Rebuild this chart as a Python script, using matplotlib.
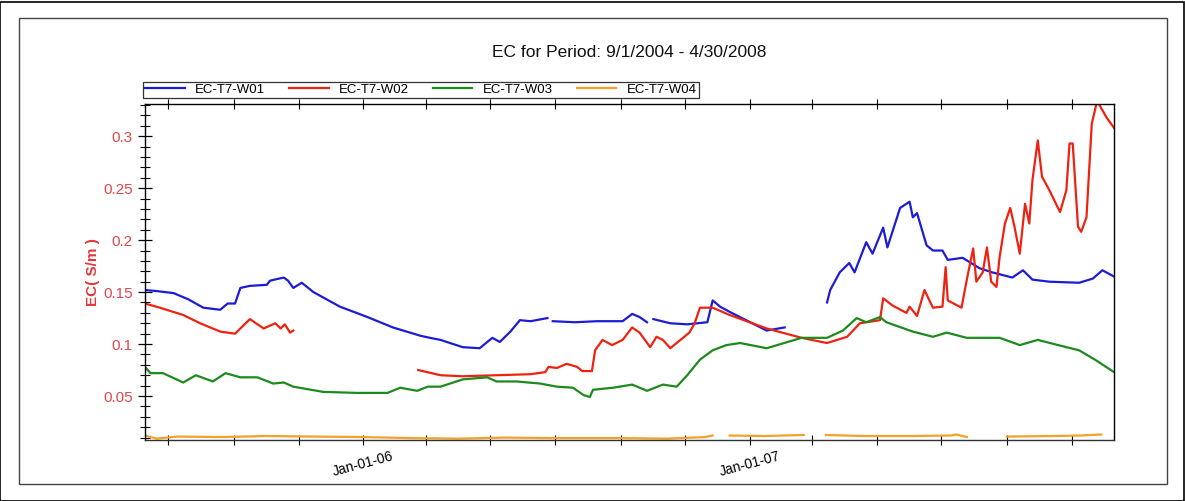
import matplotlib
matplotlib.use("Agg")
import matplotlib.pyplot as plt
import matplotlib.patches as patches
import matplotlib.dates as mdates
import numpy as np
import pandas as pd

plt.rcParams['font.family'] = ['Liberation Sans', 'DejaVu Sans']

NAN = np.nan

# EC-T7-W01 (blue); NaN marks a gap in the record
w01_dates = ['2005-06-09', '2005-06-20', '2005-07-06', '2005-07-20', '2005-08-03', '2005-08-19',
             '2005-08-26', '2005-09-02', '2005-09-07', '2005-09-16', '2005-10-02', '2005-10-05',
             '2005-10-18', '2005-10-22', '2005-10-27', '2005-11-04', '2005-11-15', '2005-12-10',
             '2006-01-05', '2006-01-29', '2006-02-24', '2006-03-05', '2006-03-15', '2006-04-05',
             '2006-04-21', '2006-05-03', '2006-05-10', '2006-05-20', '2006-05-29', '2006-06-08',
             '2006-06-24', '2006-06-26', '2006-06-29', '2006-07-20', '2006-08-10', '2006-09-03',
             '2006-09-12', '2006-09-19', '2006-09-26', '2006-09-29', '2006-10-02', '2006-10-18',
             '2006-11-03', '2006-11-22', '2006-11-27', '2006-12-04', '2006-12-13', '2007-01-17',
             '2007-02-03', '2007-02-20', '2007-03-15', '2007-03-18', '2007-03-27', '2007-04-05',
             '2007-04-10', '2007-04-21', '2007-04-27', '2007-05-07', '2007-05-11', '2007-05-23',
             '2007-06-01', '2007-06-04', '2007-06-08', '2007-06-17', '2007-06-23', '2007-07-02',
             '2007-07-07', '2007-07-21', '2007-08-06', '2007-08-18', '2007-09-06', '2007-09-16',
             '2007-09-25', '2007-10-11', '2007-11-08', '2007-11-21', '2007-11-30', '2007-12-11']
w01_vals = [0.152, 0.151, 0.149, 0.143, 0.135, 0.133,
            0.139, 0.139, 0.154, 0.156, 0.157, 0.161,
            0.164, 0.161, 0.154, 0.159, 0.150, 0.136,
            0.126, 0.116, 0.108, 0.106, 0.104, 0.097,
            0.096, 0.106, 0.102, 0.112, 0.123, 0.122,
            0.125, NAN, 0.122, 0.121, 0.122, 0.122,
            0.129, 0.126, 0.121, NAN, 0.124, 0.120,
            0.119, 0.121, 0.142, 0.136, 0.131, 0.113,
            0.116, NAN, 0.140, 0.152, 0.169, 0.178,
            0.169, 0.198, 0.187, 0.212, 0.193, 0.231,
            0.237, 0.222, 0.226, 0.195, 0.190, 0.190,
            0.181, 0.183, 0.173, 0.169, 0.164, 0.171,
            0.162, 0.160, 0.159, 0.163, 0.171, 0.165]

# EC-T7-W02 (red)
w02_dates = ['2005-06-09', '2005-06-23', '2005-07-15', '2005-07-31', '2005-08-19', '2005-09-02',
             '2005-09-16', '2005-09-29', '2005-10-10', '2005-10-15', '2005-10-19', '2005-10-24',
             '2005-10-27', '2006-01-01', '2006-02-22', '2006-03-15', '2006-04-05', '2006-05-07',
             '2006-06-08', '2006-06-22', '2006-06-25', '2006-07-03', '2006-07-12', '2006-07-22',
             '2006-07-27', '2006-08-05', '2006-08-08', '2006-08-15', '2006-08-24', '2006-09-03',
             '2006-09-12', '2006-09-19', '2006-09-29', '2006-10-05', '2006-10-11', '2006-10-18',
             '2006-11-05', '2006-11-10', '2006-11-15', '2006-11-27', '2006-12-13', '2007-01-17',
             '2007-02-19', '2007-03-15', '2007-04-03', '2007-04-15', '2007-05-04', '2007-05-07',
             '2007-05-16', '2007-05-29', '2007-06-01', '2007-06-08', '2007-06-15', '2007-06-23',
             '2007-07-02', '2007-07-05', '2007-07-07', '2007-07-20', '2007-07-25', '2007-07-31',
             '2007-08-03', '2007-08-09', '2007-08-13', '2007-08-17', '2007-08-22', '2007-08-25',
             '2007-08-30', '2007-09-04', '2007-09-08', '2007-09-13', '2007-09-18', '2007-09-22',
             '2007-09-25', '2007-09-30', '2007-10-04', '2007-10-11', '2007-10-21', '2007-10-27',
             '2007-10-30', '2007-11-02', '2007-11-07', '2007-11-10', '2007-11-15', '2007-11-20',
             '2007-11-25', '2007-12-04', '2007-12-11']
w02_vals = [0.139, 0.135, 0.128, 0.120, 0.112, 0.110,
            0.124, 0.115, 0.120, 0.115, 0.119, 0.111,
            0.113, NAN, 0.075, 0.070, 0.069, 0.070,
            0.071, 0.073, 0.078, 0.077, 0.081, 0.078,
            0.074, 0.074, 0.094, 0.104, 0.099, 0.104,
            0.116, 0.111, 0.097, 0.107, 0.104, 0.096,
            0.111, 0.120, 0.135, 0.135, 0.128, 0.115,
            0.106, 0.101, 0.107, 0.120, 0.123, 0.144,
            0.137, 0.130, 0.136, 0.127, 0.152, 0.135,
            0.136, 0.174, 0.142, 0.135, 0.162, 0.192,
            0.160, 0.169, 0.193, 0.160, 0.155, 0.184,
            0.216, 0.231, 0.213, 0.187, 0.235, 0.216,
            0.258, 0.296, 0.261, 0.248, 0.227, 0.248,
            0.293, 0.293, 0.213, 0.208, 0.222, 0.312,
            0.334, 0.318, 0.308]

# EC-T7-W03 (green)
w03_dates = ['2005-06-09', '2005-06-14', '2005-06-26', '2005-07-15', '2005-07-27', '2005-08-12',
             '2005-08-24', '2005-09-07', '2005-09-23', '2005-10-08', '2005-10-18', '2005-10-27',
             '2005-11-24', '2005-12-26', '2006-01-24', '2006-02-05', '2006-02-21', '2006-03-03',
             '2006-03-15', '2006-03-21', '2006-04-05', '2006-04-28', '2006-05-07', '2006-05-26',
             '2006-06-17', '2006-07-03', '2006-07-18', '2006-07-28', '2006-08-03', '2006-08-06',
             '2006-08-25', '2006-09-12', '2006-09-26', '2006-10-11', '2006-10-24', '2006-11-03',
             '2006-11-15', '2006-11-27', '2006-12-10', '2006-12-23', '2007-01-17', '2007-02-19',
             '2007-03-15', '2007-03-30', '2007-04-12', '2007-04-21', '2007-05-04', '2007-05-10',
             '2007-06-04', '2007-06-23', '2007-07-06', '2007-07-25', '2007-08-25', '2007-09-13',
             '2007-09-30', '2007-10-27', '2007-11-08', '2007-11-23', '2007-12-11']
w03_vals = [0.078, 0.072, 0.072, 0.063, 0.070, 0.064,
            0.072, 0.068, 0.068, 0.062, 0.063, 0.059,
            0.054, 0.053, 0.053, 0.058, 0.055, 0.059,
            0.059, 0.061, 0.066, 0.068, 0.064, 0.064,
            0.062, 0.059, 0.058, 0.051, 0.049, 0.056,
            0.058, 0.061, 0.055, 0.061, 0.059, 0.070,
            0.085, 0.094, 0.099, 0.101, 0.096, 0.106,
            0.106, 0.113, 0.125, 0.121, 0.126, 0.121,
            0.112, 0.107, 0.111, 0.106, 0.106, 0.099,
            0.104, 0.097, 0.094, 0.085, 0.073]

# EC-T7-W04 (orange)
w04_dates = ['2005-06-09', '2005-06-20', '2005-07-10', '2005-08-20', '2005-10-01', '2005-11-15',
             '2006-01-01', '2006-02-15', '2006-04-01', '2006-05-15', '2006-07-01', '2006-09-01',
             '2006-10-15', '2006-11-20', '2006-11-27', '2006-12-05', '2006-12-13', '2007-01-15',
             '2007-02-21', '2007-03-01', '2007-03-14', '2007-04-20', '2007-06-01', '2007-07-10',
             '2007-07-15', '2007-07-25', '2007-08-10', '2007-09-01', '2007-10-15', '2007-11-10',
             '2007-11-29']
w04_vals = [0.012, 0.009, 0.011, 0.0105, 0.0115, 0.011,
            0.0105, 0.0095, 0.009, 0.010, 0.0095, 0.0095,
            0.009, 0.0105, 0.012, NAN, 0.012, 0.0115,
            0.0125, NAN, 0.0125, 0.0115, 0.0115, 0.012,
            0.013, 0.0105, NAN, 0.011, 0.0115, 0.012,
            0.013]

series = [('EC-T7-W01', w01_dates, w01_vals, '#1c1cd6'),
          ('EC-T7-W02', w02_dates, w02_vals, '#ee2211'),
          ('EC-T7-W03', w03_dates, w03_vals, '#1d8a1d'),
          ('EC-T7-W04', w04_dates, w04_vals, '#f2a22a')]

fig = plt.figure(figsize=(11.85, 5.01), dpi=100)
ax = fig.add_axes([0.1224, 0.1218, 0.8177, 0.6706])

# outer frames
fig.patches.append(patches.Rectangle((0.0, 0.0), 0.999, 0.997, transform=fig.transFigure,
                                     fill=False, edgecolor='black', linewidth=1.2))
fig.patches.append(patches.Rectangle((19 / 1185, 17 / 501), 1148 / 1185, 466 / 501,
                                     transform=fig.transFigure, fill=False,
                                     edgecolor='#444444', linewidth=1.0))

for name, d, v, c in series:
    ax.plot(pd.to_datetime(d), v, color=c, linewidth=1.6, label=name)

ax.set_xlim(pd.Timestamp('2005-06-09'), pd.Timestamp('2007-12-11'))
ax.set_ylim(0.0077, 0.331)

ax.xaxis.set_major_locator(mdates.MonthLocator(bymonth=1))
ax.xaxis.set_major_formatter(mdates.DateFormatter('%b-%d-%y'))
ax.xaxis.set_minor_locator(mdates.MonthLocator(bymonth=[1, 3, 5, 7, 9, 11]))
ax.tick_params(axis='x', which='both', direction='inout', length=7, width=0.8,
               top=True, labelsize=10, pad=3)
for lbl in ax.get_xticklabels():
    lbl.set_rotation(15)
    lbl.set_ha('center')

ax.set_yticks([0.05, 0.1, 0.15, 0.2, 0.25, 0.3])
ax.set_yticklabels(['0.05', '0.1', '0.15', '0.2', '0.25', '0.3'])
ax.set_yticks(np.arange(0.01, 0.331, 0.01), minor=True)
ax.tick_params(axis='y', which='major', direction='inout', length=10, width=0.9,
               labelsize=11, labelcolor='#e04848', pad=4)
ax.tick_params(axis='y', which='minor', direction='inout', length=7, width=0.8)

for s in ax.spines.values():
    s.set_linewidth(1.0)
ax.spines['bottom'].set_color('#333333')

ax.set_ylabel('EC( S/m )', color='#e03a3a', fontsize=11, fontweight='bold', labelpad=2)

fig.text(0.531, 0.895, 'EC for Period: 9/1/2004 - 4/30/2008', ha='center', va='center',
         fontsize=12.5, color='#111111')

leg = ax.legend(loc='lower left', bbox_to_anchor=(143 / 1185, 403 / 501, 0.1, 0.1),
                bbox_transform=fig.transFigure, ncol=4, fontsize=9.5, frameon=True,
                fancybox=False, borderpad=0.15, handlelength=3.0, columnspacing=1.8,
                handletextpad=0.8, borderaxespad=0)
leg.get_frame().set_edgecolor('black')
leg.get_frame().set_linewidth(0.9)

fig.savefig('out.png', dpi=100)
